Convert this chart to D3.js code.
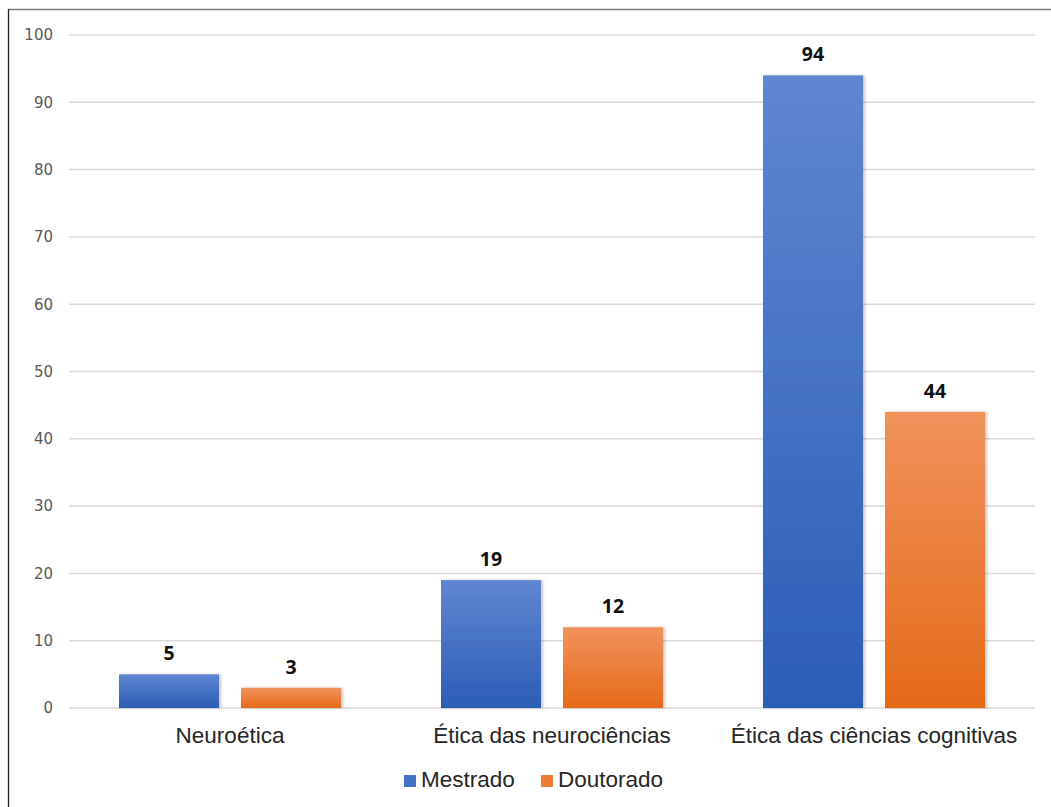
<!DOCTYPE html>
<html>
<head>
<meta charset="utf-8">
<script src="https://cdn.jsdelivr.net/npm/d3@7"></script>
<style>
  html, body { margin: 0; padding: 0; background: #fff; }
  svg { display: block; }
</style>
</head>
<body>
<svg id="chart" width="1051" height="807"></svg>
<script>
// Data
const categories = ["Neuroética", "Ética das neurociências", "Ética das ciências cognitivas"];
const seriesNames = ["Mestrado", "Doutorado"];
const mestrado = [5, 19, 94];
const doutorado = [3, 12, 44];
const yTicks = [0, 10, 20, 30, 40, 50, 60, 70, 80, 90, 100];

const seriesValues = [mestrado, doutorado];
const colors = {
  Mestrado: { top: "#5f86d1", bottom: "#2c5db6", key: "#4472c4" },
  Doutorado: { top: "#f1925c", bottom: "#e56a18", key: "#ed7d31" }
};

const svg = d3.select("#chart");
const defs = svg.append("defs");

seriesNames.forEach((name, i) => {
  const g = defs.append("linearGradient")
    .attr("id", "grad" + i)
    .attr("x1", 0).attr("y1", 0).attr("x2", 0).attr("y2", 1);
  g.append("stop").attr("offset", "0%").attr("stop-color", colors[name].top);
  g.append("stop").attr("offset", "100%").attr("stop-color", colors[name].bottom);
});

const shadow = defs.append("filter").attr("id", "shadow")
  .attr("x", "-10%").attr("y", "-10%").attr("width", "130%").attr("height", "120%");
shadow.append("feDropShadow")
  .attr("dx", 2).attr("dy", 0).attr("stdDeviation", 1.6)
  .attr("flood-color", "#000").attr("flood-opacity", 0.22);

// Frame
svg.append("line").attr("x1", 8).attr("x2", 1051).attr("y1", 9.5).attr("y2", 9.5)
  .attr("stroke", "#7a7a7a").attr("stroke-width", 1.6);
svg.append("line").attr("x1", 8.5).attr("x2", 8.5).attr("y1", 9).attr("y2", 807)
  .attr("stroke", "#222").attr("stroke-width", 1.3);

// Scales
const x = d3.scaleBand().domain(categories).range([69, 1035]).paddingInner(0).paddingOuter(0);
const xs = d3.scaleBand().domain(seriesNames).range([50, 272]).paddingInner(22 / 122).paddingOuter(0);
const y = d3.scaleLinear().domain([0, 100]).range([708, 35]);

// Gridlines
svg.append("g").selectAll("line").data(yTicks).join("line")
  .attr("x1", 69).attr("x2", 1035)
  .attr("y1", d => y(d)).attr("y2", d => y(d))
  .attr("stroke", "#d9d9d9").attr("stroke-width", 1.5);

// Y axis labels
const yAxis = d3.axisLeft(y).tickValues(yTicks).tickSize(0).tickPadding(0);
const ya = svg.append("g").attr("transform", "translate(53,0)").call(yAxis);
ya.select(".domain").remove();
ya.selectAll("text")
  .attr("font-family", "'DejaVu Sans', Verdana, sans-serif")
  .attr("font-size", 15).attr("fill", "#595959");

// Bars
const groups = svg.append("g").selectAll("g").data(categories).join("g")
  .attr("transform", d => `translate(${x(d)},0)`);

groups.each(function (cat, ci) {
  const g = d3.select(this);
  seriesNames.forEach((name, si) => {
    const v = seriesValues[si][ci];
    g.append("rect")
      .attr("x", xs(name))
      .attr("y", y(v))
      .attr("width", xs.bandwidth())
      .attr("height", y(0) - y(v))
      .attr("fill", `url(#grad${si})`)
      .attr("filter", "url(#shadow)");
    g.append("text")
      .attr("x", xs(name) + xs.bandwidth() / 2)
      .attr("y", y(v) - 14)
      .attr("text-anchor", "middle")
      .attr("font-family", "'Open Sans', Lato, sans-serif")
      .attr("font-weight", "bold")
      .attr("font-size", 19.5)
      .attr("fill", "#111")
      .text(v);
  });
});

// Category axis labels
const xAxis = d3.axisBottom(x).tickSize(0).tickPadding(0);
const xa = svg.append("g").attr("transform", "translate(0,708)").call(xAxis);
xa.select(".domain").remove();
xa.selectAll("text")
  .attr("dy", 0).attr("y", 35)
  .attr("font-family", "'Liberation Sans', Arial, sans-serif")
  .attr("font-size", 22.5).attr("fill", "#262626");

// Legend
const legend = svg.append("g").attr("transform", "translate(404,787)");
const legendX = [0, 137];
seriesNames.forEach((name, i) => {
  const item = legend.append("g").attr("transform", `translate(${legendX[i]},0)`);
  item.append("rect").attr("x", 0).attr("y", -12).attr("width", 12).attr("height", 12)
    .attr("fill", colors[name].key);
  item.append("text").attr("x", 17).attr("y", 0)
    .attr("font-family", "'Liberation Sans', Arial, sans-serif")
    .attr("font-size", 22.5).attr("fill", "#262626")
    .text(name);
});
</script>
</body>
</html>
